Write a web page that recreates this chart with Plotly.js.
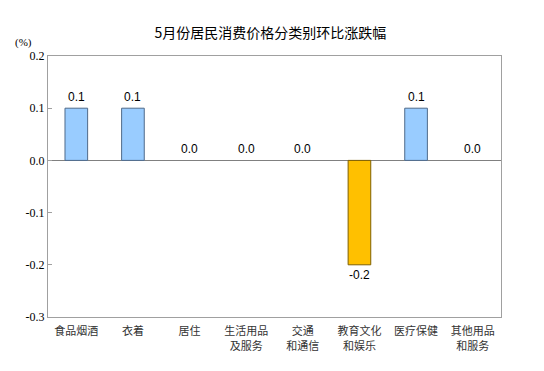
<!DOCTYPE html>
<html><head><meta charset="utf-8">
<script src="https://cdn.plot.ly/plotly-3.0.1.min.js"></script>
<style>body{margin:0;background:#fff}#c{width:544px;height:371px}</style>
</head><body><div id="c"></div>
<script>
const categories = ["食品烟酒","衣着","居住","生活用品<br>及服务","交通<br>和通信","教育文化<br>和娱乐","医疗保健","其他用品<br>和服务"];
const values = [0.1, 0.1, 0.0, 0.0, 0.0, -0.2, 0.1, 0.0];
const yTicks = [0.2, 0.1, 0.0, -0.1, -0.2, -0.3];
const yTickLabels = ["0.2","0.1","0.0","-0.1","-0.2","-0.3"];

const colors = values.map(v => v < 0 ? "#FFC000" : "#99CCFF");
const lineColors = values.map(v => v < 0 ? "#7F6000" : "#4F6A8A");
const lineWidths = values.map(v => v === 0 ? 0 : 1);

const trace = {
  type: "bar", x: categories, y: values, width: 0.4,
  marker: {color: colors, line: {color: lineColors, width: lineWidths}},
  hoverinfo: "none"
};

const annotations = values.map((v, i) => ({
  x: categories[i], y: v, xref: "x", yref: "y",
  text: v.toFixed(1), showarrow: false,
  yanchor: v < 0 ? "top" : "bottom", yshift: v < 0 ? -1 : 2,
  font: {family: "Liberation Sans, Arial, sans-serif", size: 12, color: "#000"}
}));
annotations.push({
  xref: "paper", yref: "paper", x: -0.055, y: 1.02, xanchor: "center", yanchor: "bottom",
  text: "(%)", showarrow: false,
  font: {family: "Liberation Serif", size: 11, color: "#000"}
});

const layout = {
  width: 544, height: 371,
  margin: {l: 48, r: 43, t: 56, b: 54},
  paper_bgcolor: "#fff", plot_bgcolor: "#fff",
  title: {text: "5月份居民消费价格分类别环比涨跌幅", x: 0.497, xanchor: "center", y: 0.91, yanchor: "middle",
          font: {family: "Noto Sans CJK SC, sans-serif", size: 14, color: "#000"}},
  showlegend: false,
  xaxis: {
    type: "category", showline: true, linecolor: "#A0A0A0", linewidth: 1, mirror: true,
    showgrid: false, ticks: "", zeroline: false, ticklabelstandoff: 4,
    tickfont: {family: "Noto Sans CJK SC, sans-serif", size: 11, color: "#333"}
  },
  yaxis: {
    range: [-0.3, 0.2], tickvals: yTicks, ticktext: yTickLabels,
    showline: true, linecolor: "#A0A0A0", linewidth: 1, mirror: true,
    showgrid: false, ticks: "inside", ticklen: 4, tickcolor: "#A0A0A0",
    zeroline: true, zerolinecolor: "#808080", zerolinewidth: 1,
    tickfont: {family: "Liberation Serif", size: 12, color: "#000"}
  },
  annotations: annotations
};
Plotly.newPlot("c", [trace], layout, {displayModeBar: false, staticPlot: true});
</script></body></html>
